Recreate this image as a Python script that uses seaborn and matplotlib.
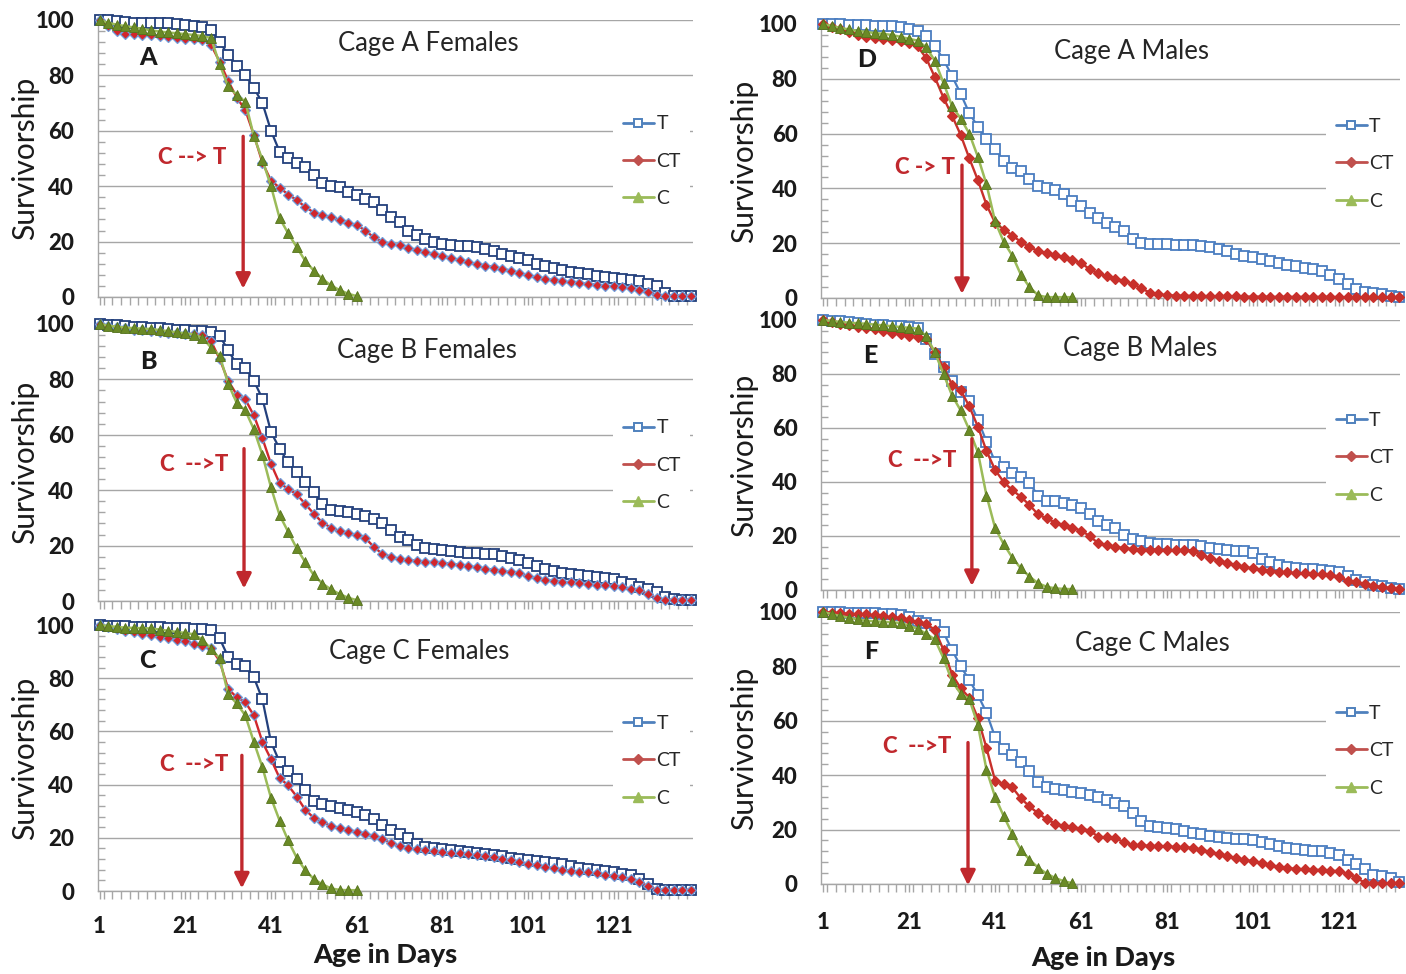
import matplotlib
matplotlib.use("Agg")
import matplotlib.pyplot as plt
from matplotlib.lines import Line2D
from matplotlib.ticker import FixedLocator, MultipleLocator, NullFormatter
import pandas as pd
import seaborn as sns

# ---------------- data (survivorship %, read every 2nd day) ----------------
days_left = list(range(1, 140, 2))    # cages, females: days 1..139
days_right = list(range(1, 136, 2))   # males: days 1..135
days_c_left = list(range(1, 62, 2))   # control group females: days 1..61
days_c_right = list(range(1, 60, 2))  # control group males: days 1..59

A_T = [100, 100, 99.5, 99.3, 99, 99, 99, 99, 98.8, 98.5,
       98.2, 98, 97.5, 96.5, 92, 87.5, 83.5, 80, 75.5, 70,
       60, 52.5, 50, 48.5, 47, 44, 41, 40, 39.8, 38,
       36.8, 35.5, 34.2, 31.5, 28.8, 27, 24, 22.3, 21, 19.8,
       19, 18.6, 18.4, 18.3, 18.2, 17.5, 16.5, 15.6, 14.8, 14,
       13.2, 12, 11.2, 10.5, 9.8, 9.2, 8.8, 8.2, 7.7, 7.3,
       7, 6.6, 6.2, 5.6, 4.8, 3.8, 1.5, 0.5, 0.5, 0.5]
A_CT = [100, 98, 96, 95, 94.8, 94.6, 94.5, 94.4, 94, 93.5,
        93.2, 93, 92.8, 91, 85, 78, 72, 67.5, 58.5, 48.5,
        42, 39.5, 37, 35, 32.5, 30.5, 29.5, 28.8, 27.8, 26.8,
        26, 24, 21.5, 20, 19.2, 18.6, 17.8, 17, 16.2, 15.5,
        14.8, 14.2, 13.3, 12.5, 12, 11.3, 10.8, 10.2, 9.5, 8.6,
        7.8, 7.2, 6.6, 6, 5.6, 5.3, 5, 4.7, 4.4, 4.1,
        3.8, 3.5, 3.1, 2.7, 1.8, 0.8, 0.5, 0.5, 0.5, 0.5]
A_C = [100, 99, 98.3, 97.8, 97.3, 96.8, 96.3, 95.8, 95.5, 95.2,
       94.9, 94.6, 94.2, 93.5, 84, 76, 73, 70.5, 58, 49.5,
       40, 28.5, 23, 18, 13, 9.5, 6.5, 4.2, 2.5, 1.2,
       0.3]

B_T = [100, 99.8, 99.5, 99.3, 99, 98.8, 98.6, 98.4, 98.2, 98,
       97.8, 97.6, 97.4, 97, 95.8, 90.5, 85.4, 84, 79.5, 73,
       61, 55, 50, 46.5, 43, 39.5, 35, 33, 32.5, 32,
       31.5, 30.8, 29.5, 28, 25.8, 23, 22, 20.2, 19.2, 18.8,
       18.5, 18.1, 17.8, 17.5, 17.2, 17, 16.8, 16.2, 15.5, 14.8,
       13.6, 12.5, 11.6, 10.8, 10.2, 9.7, 9.3, 8.9, 8.6, 8.3,
       7.8, 7, 6.2, 5.2, 4.2, 3.2, 1.5, 0.6, 0.5, 0.5]
B_CT = [100, 99.3, 98.8, 98.4, 98, 97.7, 97.4, 97.1, 96.9, 96.7,
        96.5, 96.4, 96, 93.8, 87.4, 79.5, 74.5, 72.8, 67, 58.7,
        49.5, 42.5, 40.5, 38.5, 35, 31.5, 28.3, 26.5, 25.2, 24.5,
        23.8, 22.8, 19.5, 17, 16, 15.2, 14.8, 14.5, 14.2, 14,
        13.8, 13.4, 13, 12.6, 12.1, 11.7, 11.2, 10.8, 10.4, 10,
        9, 8.2, 7.6, 7.2, 6.9, 6.7, 6.4, 6, 5.8, 5.6,
        5.4, 5, 4.5, 3.9, 2.5, 1, 0.5, 0.5, 0.5, 0.5]
B_C = [100, 99.4, 99, 98.7, 98.5, 98.3, 98.2, 97.8, 97.4, 97,
       96.6, 96.2, 95, 91.5, 88.6, 78.5, 71.5, 68.8, 62, 52.7,
       41, 31, 25, 19, 14, 9.3, 6.3, 4.2, 2.5, 1.2,
       0.3]

C_T = [100, 99.8, 99.6, 99.5, 99.4, 99.3, 99.2, 99.1, 99, 98.9,
       98.8, 98.6, 98.4, 98.2, 95, 88, 85.5, 84.5, 80.3, 72,
       56, 48.5, 45, 42, 38, 34, 32.8, 31.9, 31.2, 30.5,
       29.8, 28.6, 27, 24.8, 23, 21.6, 20, 17.5, 16.6, 16.2,
       15.9, 15.6, 15.1, 14.6, 14.2, 13.9, 13.6, 13.1, 12.5, 12,
       11.6, 11.2, 10.9, 10.5, 10, 9.4, 8.8, 8.2, 7.8, 7.4,
       7, 6.5, 5.9, 4.5, 2.5, 0.6, 0.5, 0.5, 0.5, 0.5]
C_CT = [100, 99.2, 98.5, 97.8, 97.3, 96.8, 96.2, 95.6, 95.1, 94.5,
        93.8, 93, 92.2, 91.2, 86.5, 76, 72.8, 71, 66, 56,
        49.5, 42.5, 39.7, 35.5, 30.5, 27.5, 25.8, 24.5, 23.7, 23,
        22.3, 21.6, 20.6, 19.5, 18, 17, 16.2, 15.7, 15.3, 14.9,
        14.6, 14.4, 14.1, 13.8, 13.5, 13.2, 12.9, 12.2, 11.5, 10.9,
        10.3, 9.7, 9, 8.5, 8, 7.6, 7.2, 7, 6.6, 6.1,
        5.6, 5.2, 4.5, 3.4, 1.8, 0.5, 0.5, 0.5, 0.5, 0.5]
C_C = [100, 99.6, 99.3, 99, 98.9, 98.8, 98.7, 98.3, 97.8, 97.4,
       97, 96.5, 94.5, 91, 87.5, 74, 70.5, 66, 56, 46.5,
       35, 26.5, 19, 12.5, 7.8, 4.5, 2.5, 1, 0.4, 0.3,
       0.3]

D_T = [100, 100, 100, 99.8, 99.7, 99.5, 99.4, 99.3, 99.2, 98.8,
       98.2, 97.5, 95.5, 92, 87, 81, 74.5, 67.5, 62.5, 58,
       54.5, 50, 47.5, 46.5, 43.5, 41, 40, 39.5, 38, 35.5,
       33.5, 31, 29.3, 27.5, 26, 24.6, 21.5, 20, 19.8, 19.7,
       19.6, 19.4, 19.3, 19.2, 18.9, 18.5, 17.8, 17, 16.2, 15.5,
       14.8, 14.1, 13.5, 12.8, 12.1, 11.6, 11.1, 10.7, 9.8, 8.4,
       7, 5.2, 3.2, 2.2, 1.8, 1.4, 0.9, 0.5]
D_CT = [100, 99, 98, 97, 96, 95.3, 94.8, 94.4, 94, 93.7,
        93, 91.8, 87.5, 80.5, 73.1, 66.5, 59.5, 51, 43, 34,
        27.5, 25, 22.8, 20.5, 18.5, 17.2, 16.4, 15.6, 14.8, 13.8,
        12.8, 10.5, 9, 8, 7.1, 6.2, 5.2, 3.5, 2, 1.3,
        1, 0.9, 0.8, 0.8, 0.7, 0.7, 0.6, 0.6, 0.6, 0.5,
        0.5, 0.5, 0.4, 0.4, 0.4, 0.4, 0.4, 0.4, 0.4, 0.4,
        0.3, 0.3, 0.3, 0.3, 0.3, 0.3, 0.3, 0.3]
D_C = [100, 99.2, 98.6, 98, 97.5, 97.1, 96.7, 96.4, 96, 95.3,
       94.6, 93.9, 91.5, 86.5, 78.5, 70, 65.5, 60, 51.5, 41.5,
       28, 20.5, 15.5, 8.5, 4, 1, 0.3, 0.3, 0.3, 0.3]

E_T = [100, 99.8, 99.6, 99.3, 99, 98.5, 98.3, 98.1, 97.9, 97.7,
       97.5, 97, 93, 87.5, 82.5, 77.3, 73.5, 70, 63, 55,
       47.5, 45.5, 43.5, 42, 39.5, 35, 33, 32.8, 32.4, 31.5,
       30.5, 28.3, 25.5, 24, 23, 20.5, 18.8, 18, 17.4, 17.1,
       17, 16.8, 16.7, 16.6, 16.2, 15.5, 15.1, 14.8, 14.5, 14.3,
       13.8, 11.5, 10.2, 9.1, 8.5, 8.1, 7.8, 7.6, 7.4, 7,
       6.5, 5.2, 3.6, 2.9, 2, 1.5, 0.9, 0.5]
E_CT = [100, 99.2, 98.6, 98, 97.5, 96.9, 96.5, 95.9, 95.3, 94.7,
        94.2, 93.6, 92.9, 88, 82.5, 76, 74, 68, 60.5, 51.5,
        44.5, 40, 37, 34.5, 31.5, 28, 26.5, 25, 24, 23,
        22, 20, 17.3, 16.5, 16, 15.5, 15.2, 15, 14.9, 14.8,
        14.8, 14.8, 14.8, 14.5, 13, 11.8, 10.9, 10, 9.2, 8.5,
        8, 7.5, 7.1, 6.8, 6.5, 6.3, 6.2, 6, 5.8, 5.6,
        5, 3.4, 2.8, 2.1, 1.5, 1.2, 0.8, 0.5]
E_C = [100, 99.6, 99.3, 99, 98.8, 98.6, 98.3, 98, 97.7, 97.4,
       97.1, 96.8, 94, 88, 80, 72, 66.5, 59.3, 51, 35,
       23, 17, 12, 8, 5, 2.5, 1.2, 0.6, 0.4, 0.3]

F_T = [100, 100, 99.9, 99.8, 99.7, 99.6, 99.5, 99.3, 99.2, 99,
       98, 96.8, 96, 95.2, 92.5, 86, 80, 75, 69.5, 63,
       54, 49.7, 47.5, 45, 41.5, 37.5, 35.5, 35, 34.7, 34,
       33.4, 32.9, 32, 30.8, 29.8, 28.5, 26.1, 23, 21.3, 20.9,
       20.6, 20.1, 19.5, 18.9, 18.2, 17.6, 17.1, 16.8, 16.6, 16.4,
       16.3, 15.6, 14.6, 13.8, 13.2, 12.8, 12.5, 12.3, 12.1, 11.5,
       10.5, 9, 7.5, 5.5, 3.4, 3, 2.3, 0.6]
F_CT = [100, 99.8, 99.6, 99.4, 99.2, 99.1, 98.8, 98.4, 98.1, 97.8,
        97, 96.2, 95.5, 93.5, 86, 77, 72, 68.5, 61, 50,
        38, 36.8, 35.5, 31.5, 28.5, 26, 23.8, 22.2, 21.3, 20.8,
        20.4, 19.6, 17.4, 17.1, 16.9, 15.3, 14.4, 14.2, 14, 13.9,
        13.8, 13.6, 13.5, 13.3, 12.6, 11.8, 11, 10.2, 9.5, 8.9,
        8.3, 7.7, 7, 6.3, 5.8, 5.6, 5.4, 5.3, 5.1, 4.9,
        4.7, 3.8, 2.3, 0.5, 0.3, 0.3, 0.3, 0.3]
F_C = [100, 99.2, 98.5, 97.9, 97.3, 96.8, 96.6, 96.4, 96.2, 96,
       95, 93.8, 92, 89.9, 83, 74.5, 70, 68, 58.5, 42,
       32, 25, 18.5, 12.5, 9, 6, 3.8, 2.2, 1, 0.3]

groups = ["T", "CT", "C"]
tick_days = [1, 21, 41, 61, 81, 101, 121]
panel_letters = ["A", "B", "C", "D", "E", "F"]
panel_titles = ["Cage A Females", "Cage B Females", "Cage C Females",
                "Cage A Males", "Cage B Males", "Cage C Males"]
switch_labels = ["C --> T", "C  -->T", "C  -->T", "C -> T", "C  -->T", "C  -->T"]

# ---------------- style ----------------
sns.set_theme(style="white")
plt.rcParams["font.family"] = ["Lato", "DejaVu Sans"]
plt.rcParams["axes.unicode_minus"] = False

W, H = 1406, 974
fig = plt.figure(figsize=(W / 100, H / 100), dpi=100)


def rect(x0, x1, ytop, ybot):
    return [x0 / W, 1 - ybot / H, (x1 - x0) / W, (ybot - ytop) / H]


GRID = "#A6A6A6"
RED_TXT = "#C0282D"
HEAVY = "black"

layout = [
    dict(rect=rect(97.5, 693, 20, 297), xmax=139.5, side="L", bottom=False,
         title_xy=(0.555, 0.915), letter_xy=(0.085, 0.863), sw_xy=(0.159, 0.505),
         arrow=(34.5, 58, 3.0)),
    dict(rect=rect(97.5, 693, 324, 601), xmax=139.5, side="L", bottom=False,
         title_xy=(0.553, 0.906), letter_xy=(0.085, 0.866), sw_xy=(0.162, 0.491),
         arrow=(34.7, 55, 4.5)),
    dict(rect=rect(97.5, 693, 625, 891), xmax=139.5, side="L", bottom=True,
         title_xy=(0.54, 0.902), letter_xy=(0.083, 0.865), sw_xy=(0.162, 0.477),
         arrow=(34.2, 51, 1.0)),
    dict(rect=rect(821, 1400, 24, 298), xmax=135.2, side="R", bottom=False,
         title_xy=(0.537, 0.898), letter_xy=(0.078, 0.869), sw_xy=(0.18, 0.478),
         arrow=(33.3, 48.5, 1.5)),
    dict(rect=rect(821, 1400, 320, 590), xmax=135.2, side="R", bottom=False,
         title_xy=(0.551, 0.896), letter_xy=(0.085, 0.87), sw_xy=(0.174, 0.481),
         arrow=(35.6, 56, 1.5)),
    dict(rect=rect(821, 1400, 612, 884), xmax=135.2, side="R", bottom=True,
         title_xy=(0.573, 0.886), letter_xy=(0.086, 0.853), sw_xy=(0.166, 0.504),
         arrow=(34.7, 52, -0.5)),
]

series = [
    (A_T, A_CT, A_C), (B_T, B_CT, B_C), (C_T, C_CT, C_C),
    (D_T, D_CT, D_C), (E_T, E_CT, E_C), (F_T, F_CT, F_C),
]

colors = {
    "L": dict(T="#23407C", CT_face="#D2262B", CT_edge="#6E9DDB", CT_line="#D0282D"),
    "R": dict(T="#4A7DC0", CT_face="#C8302B", CT_edge="#C8302B", CT_line="#C8302B"),
}
C_LINE = "#9BBB59"
C_FACE = "#6A8A26"
C_EDGE = "#55731C"

for i, (lay, (sT, sCT, sC)) in enumerate(zip(layout, series)):
    ax = fig.add_axes(lay["rect"])
    side = lay["side"]
    days = days_left if side == "L" else days_right
    days_c = days_c_left if side == "L" else days_c_right
    col = colors[side]

    df = pd.concat([
        pd.DataFrame({"day": days, "surv": sT, "group": "T"}),
        pd.DataFrame({"day": days, "surv": sCT, "group": "CT"}),
        pd.DataFrame({"day": days_c, "surv": sC, "group": "C"}),
    ], ignore_index=True)

    sns.lineplot(data=df[df.group == "T"], x="day", y="surv", ax=ax,
                 color=col["T"], lw=1.6, marker="s", markersize=7.2,
                 markerfacecolor="white", markeredgecolor=col["T"],
                 markeredgewidth=1.3, clip_on=False, legend=False, zorder=3)
    sns.lineplot(data=df[df.group == "CT"], x="day", y="surv", ax=ax,
                 color=col["CT_line"], lw=1.7, marker="D", markersize=4.8,
                 markerfacecolor=col["CT_face"], markeredgecolor=col["CT_edge"],
                 markeredgewidth=0.9, clip_on=False, legend=False, zorder=4)
    sns.lineplot(data=df[df.group == "C"], x="day", y="surv", ax=ax,
                 color=C_LINE, lw=1.8, marker="^", markersize=7.2,
                 markerfacecolor=C_FACE, markeredgecolor=C_EDGE,
                 markeredgewidth=0.6, clip_on=False, legend=False, zorder=5)

    ax.set_xlim(0.5, lay["xmax"])
    ax.set_ylim(0, 100)
    ax.set_axisbelow(True)

    # y axis
    ax.yaxis.set_major_locator(MultipleLocator(20))
    ax.yaxis.set_minor_locator(MultipleLocator(4))
    ax.yaxis.grid(True, which="major", color=GRID, lw=1.0)
    ax.xaxis.grid(False)
    ax.tick_params(axis="y", which="major", direction="out", length=8, width=1,
                   color=GRID, labelsize=16, pad=9, labelcolor="#1a1a1a")
    ax.tick_params(axis="y", which="minor", direction="in", length=5, width=1,
                   color=GRID, left=True)
    for lab in ax.get_yticklabels():
        lab.set_fontweight(HEAVY)

    # x axis
    ax.xaxis.set_major_locator(FixedLocator(tick_days))
    ax.xaxis.set_minor_locator(MultipleLocator(2))
    ax.tick_params(axis="x", which="both", direction="out", length=6, width=1,
                   color=GRID, bottom=True)
    if lay["bottom"]:
        ax.set_xticklabels([str(d) for d in tick_days], fontsize=16,
                           fontweight=HEAVY, color="#1a1a1a")
        ax.tick_params(axis="x", which="major", pad=12 if side == "L" else 14)
    else:
        ax.xaxis.set_major_formatter(NullFormatter())

    for s in ["top", "right"]:
        ax.spines[s].set_visible(False)
    for s in ["left", "bottom"]:
        ax.spines[s].set_color(GRID)
        ax.spines[s].set_linewidth(1.0)

    ax.set_xlabel("")
    ax.set_ylabel("Survivorship", fontsize=21.5, color="#1a1a1a")
    ax.yaxis.set_label_coords(-0.098 if side == "L" else -0.108, 0.5)

    ax.text(*lay["title_xy"], panel_titles[i], transform=ax.transAxes,
            ha="center", va="center", fontsize=18.5, color="#262626")
    ax.text(*lay["letter_xy"], panel_letters[i], transform=ax.transAxes,
            ha="center", va="center", fontsize=18, fontweight=HEAVY, color="#1a1a1a")
    ax.text(*lay["sw_xy"], switch_labels[i], transform=ax.transAxes,
            ha="center", va="center", fontsize=16, fontweight=HEAVY, color=RED_TXT)

    ax_day, y0, y1 = lay["arrow"]
    ax.annotate("", xy=(ax_day, y1), xytext=(ax_day, y0),
                arrowprops=dict(arrowstyle="-|>", color=RED_TXT, lw=2.4,
                                mutation_scale=22, shrinkA=0, shrinkB=0),
                annotation_clip=False, zorder=6)

    handles = [
        Line2D([0], [0], color="#4F81BD", lw=2, marker="s", ms=6,
               mfc="white", mec="#4F81BD", mew=1.4),
        Line2D([0], [0], color="#C0504D", lw=2, marker="D", ms=5.5,
               mfc="#C0504D", mec="#C0504D"),
        Line2D([0], [0], color="#9BBB59", lw=2, marker="^", ms=7.5,
               mfc="#9BBB59", mec="#9BBB59"),
    ]
    leg = ax.legend(handles, groups, loc="center left",
                    bbox_to_anchor=(0.866 if side == "L" else 0.872, 0.49),
                    frameon=True, fontsize=14, handlelength=1.6,
                    handletextpad=0.12, labelspacing=1.05, borderpad=0.5,
                    borderaxespad=0)
    leg.get_frame().set_facecolor("white")
    leg.get_frame().set_edgecolor("none")
    leg.get_frame().set_alpha(1)
    leg.set_zorder(2)

fig.text(385 / W, 1 - 955 / H, "Age in Days", ha="center", va="center",
         fontsize=19.5, fontweight=HEAVY, color="#1a1a1a")
fig.text(1103 / W, 1 - 958 / H, "Age in Days", ha="center", va="center",
         fontsize=19.5, fontweight=HEAVY, color="#1a1a1a")

fig.savefig("out.png", dpi=100, facecolor="white")
